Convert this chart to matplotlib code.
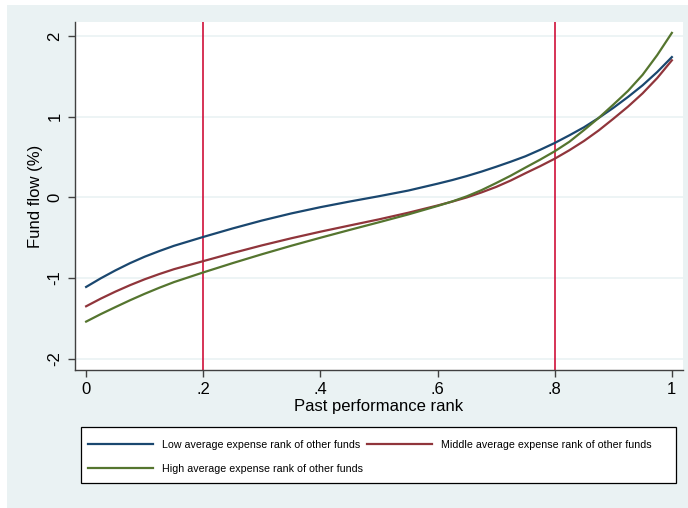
import matplotlib
matplotlib.use("Agg")
import matplotlib.pyplot as plt
from matplotlib.patches import Rectangle

plt.rcParams['font.family'] = ['Liberation Sans', 'DejaVu Sans']

# 数据
rank = [0.0, 0.025, 0.05, 0.075, 0.1, 0.125, 0.15, 0.2, 0.25, 0.3, 0.35, 0.4, 0.45, 0.5,
        0.55, 0.6, 0.625, 0.65, 0.675, 0.7, 0.725, 0.75, 0.775, 0.8,
        0.825, 0.85, 0.875, 0.9, 0.925, 0.95, 0.975, 1.0]
flow_low = [-1.11, -1.003, -0.905, -0.815, -0.735, -0.665, -0.60, -0.49, -0.385, -0.287, -0.199,
            -0.121, -0.051, 0.015, 0.085, 0.17, 0.215, 0.265, 0.32, 0.38, 0.443, 0.51, 0.59,
            0.675, 0.77, 0.87, 0.985, 1.11, 1.245, 1.39, 1.555, 1.74]
flow_mid = [-1.35, -1.255, -1.168, -1.088, -1.015, -0.95, -0.89, -0.79, -0.69, -0.595, -0.507,
            -0.425, -0.348, -0.272, -0.19, -0.10, -0.052, 0.0, 0.062, 0.13, 0.21, 0.30, 0.387,
            0.48, 0.585, 0.70, 0.83, 0.975, 1.125, 1.29, 1.48, 1.70]
flow_high = [-1.54, -1.447, -1.36, -1.275, -1.195, -1.12, -1.05, -0.93, -0.815, -0.705, -0.60,
             -0.50, -0.403, -0.308, -0.211, -0.106, -0.05, 0.014, 0.09, 0.178, 0.27, 0.37, 0.468,
             0.572, 0.69, 0.835, 0.985, 1.15, 1.32, 1.52, 1.765, 2.04]
vlines = [0.2, 0.8]
labels = ['Low average expense rank of other funds',
          'Middle average expense rank of other funds',
          'High average expense rank of other funds']
xticks = [0, 0.2, 0.4, 0.6, 0.8, 1.0]
xticklabels = ['0', '.2', '.4', '.6', '.8', '1']
yticks = [-2, -1, 0, 1, 2]

W, H = 688, 508
fig = plt.figure(figsize=(W / 100, H / 100), dpi=100)
bg = '#EAF2F3'
fig.patches.append(Rectangle((7 / W, 0), 1 - 7 / W, 1 - 5 / H, transform=fig.transFigure,
                             facecolor=bg, edgecolor='none', zorder=-10))

ax = fig.add_axes([75 / W, 1 - 370 / H, 608 / W, 348 / H])
ax.set_facecolor('white')

for y in yticks:
    ax.axhline(y, color=bg, lw=1.2, zorder=0)
for v in vlines:
    ax.axvline(v, color='#D0103A', lw=1.2, zorder=1)

l1, = ax.plot(rank, flow_low, color='#1A476F', lw=1.6, zorder=3)
l2, = ax.plot(rank, flow_mid, color='#90353B', lw=1.6, zorder=3)
l3, = ax.plot(rank, flow_high, color='#55752F', lw=1.6, zorder=3)

ax.set_xlim(-0.019, 1.019)
ax.set_ylim(-2.14, 2.175)
ax.set_xticks(xticks)
ax.set_xticklabels(xticklabels)
ax.set_yticks(yticks)
ax.set_yticklabels([str(t) for t in yticks], rotation=90, va='center')

for s in ['top', 'right']:
    ax.spines[s].set_visible(False)
for s in ['left', 'bottom']:
    ax.spines[s].set_color('#404040')
    ax.spines[s].set_linewidth(1.0)
ax.tick_params(axis='both', direction='out', length=5, width=1, color='#404040',
               labelsize=12, pad=4)

ax.set_xlabel('Past performance rank', fontsize=12, labelpad=1)
ax.set_ylabel('Fund flow (%)', fontsize=12, labelpad=3)

# 图例框
fig.patches.append(Rectangle((81 / W, 1 - 483 / H), 595 / W, 56 / H, transform=fig.transFigure,
                             facecolor='white', edgecolor='black', lw=0.9, zorder=-5))
# 图例（按行排列：低、中 / 高）
fig.legend([l1, l3, l2], [labels[0], labels[2], labels[1]], ncol=2,
           loc='upper left', bbox_to_anchor=(81 / W, 1 - 433 / H),
           borderaxespad=0, fontsize=7.7, frameon=False, handlelength=6.1,
           handletextpad=0.8, labelspacing=1.3, borderpad=0.65, columnspacing=0.4)

fig.savefig('out.png', dpi=100)
